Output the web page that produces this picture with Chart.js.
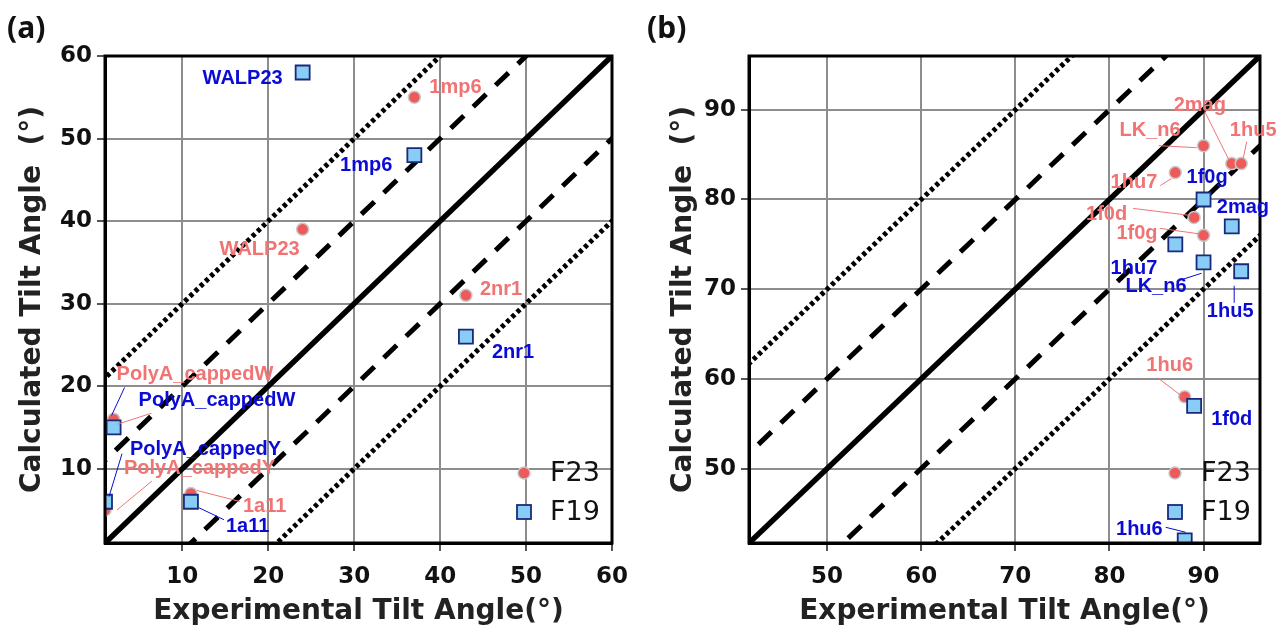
<!DOCTYPE html>
<html><head><meta charset="utf-8">
<script src="https://cdn.jsdelivr.net/npm/chart.js@4/dist/chart.umd.min.js"></script>
<style>
html,body{margin:0;padding:0;background:#fff;}
#wrap{display:flex;width:1286px;height:630px;overflow:hidden;}
canvas{display:block;}
</style></head><body>
<div id="wrap"><canvas id="ca" width="640" height="630"></canvas><canvas id="cb" width="646" height="630"></canvas></div>
<script>
// ---------- data ----------
const A_F23_names = ['1mp6', 'WALP23', '2nr1', 'PolyA_cappedW', 'PolyA_cappedY', '1a11'];
const A_F23_exp   = [37, 24, 43, 2, 1, 11];
const A_F23_calc  = [55, 39, 31, 16, 5, 7];
const A_F19_names = ['WALP23', '1mp6', '2nr1', 'PolyA_cappedW', 'PolyA_cappedY', '1a11'];
const A_F19_exp   = [24, 37, 43, 2, 1, 11];
const A_F19_calc  = [58, 48, 26, 15, 6, 6];

const B_F23_names = ['LK_n6', '2mag', '1hu5', '1hu7', '1f0d', '1f0g', '1hu6'];
const B_F23_exp   = [90, 93, 94, 87, 89, 90, 88];
const B_F23_calc  = [86, 84, 84, 83, 78, 76, 58];
const B_F19_names = ['1f0g', '2mag', '1hu7', 'LK_n6', '1hu5', '1f0d', '1hu6'];
const B_F19_exp   = [90, 93, 87, 90, 94, 89, 88];
const B_F19_calc  = [80, 77, 75, 73, 72, 57, 42];

const A_ticks = [10, 20, 30, 40, 50, 60];
const B_ticks = [50, 60, 70, 80, 90];
const A_range = [1, 60];
const B_range = [41.7, 96];
const refOffsets = [0, 10, -10, 20, -20];   // reference lines y = x + k
const seriesNames = ['F23', 'F19'];

// ---------- label placement (pixel offsets from the point) ----------
// [dx, dy, align, leader line [x1,y1,x2,y2] or null]
const A_F23_lab = [
  [15, -10, 'left', null],
  [-3, 20, 'right', null],
  [14, -6, 'left', null],
  [3, -45, 'left', [4, 5, 38, -6]],
  [19, -41, 'left', [12, 0, 47, -29]],
  [52, 13, 'left', [6, -3, 49, 8]]
];
const A_F19_lab = [
  [-20, 6, 'right', null],
  [-22, 10, 'right', null],
  [26, 16, 'left', null],
  [25, -27, 'left', [-2, -12, 11, -40]],
  [25, -52, 'left', [4, -5, 17, -48]],
  [35, 25, 'left', [8, 6, 33, 18]]
];
const B_F23_lab = [
  [-23, -15, 'right', [-45, 0, -7, 2]],
  [-32, -58, 'center', [-3, -4, -27, -52]],
  [12, -33, 'center', [2, -5, 5.5, -22]],
  [-18, 10, 'right', [-15, 13, -4, 6]],
  [-67, -3, 'right', [-61, -9, -4, -2]],
  [-46, -2, 'right', [-43.5, -7, -3.5, -1.4]],
  [-15, -31, 'center', [-27, -19, -2, 0]]
];
const B_F19_lab = [
  [-17, -22, 'left', null],
  [-15, -19, 'left', null],
  [-18, 24, 'right', null],
  [-17, 24, 'right', [-27, 19, -2, 11]],
  [-11, 40, 'center', [-7, 14.5, -7, 31.5]],
  [17, 14, 'left', null],
  [-22, -11, 'right', [-19, -13, 1, -8]]
];

// ---------- styles ----------
const RED_FILL = '#ee5a5a', RED_EDGE = '#c8c8c8', RED_TEXT = '#f07474';
const BLUE_FILL = '#88cdf6', BLUE_EDGE = '#1b2a78', BLUE_TEXT = '#0b0bd6';
const LABEL_FONT = 'bold 20px "Liberation Sans", Arial, sans-serif';

function drawCircle(ctx, x, y) {
  ctx.beginPath(); ctx.arc(x, y, 6, 0, Math.PI * 2);
  ctx.fillStyle = RED_FILL; ctx.fill();
  ctx.lineWidth = 1.5; ctx.strokeStyle = RED_EDGE; ctx.stroke();
}
function drawSquare(ctx, x, y) {
  ctx.fillStyle = BLUE_FILL; ctx.fillRect(x - 7, y - 7, 14, 14);
  ctx.lineWidth = 1.8; ctx.strokeStyle = BLUE_EDGE; ctx.strokeRect(x - 7, y - 7, 14, 14);
}

function makeAnnot(groups, panelText, legendDx) {
  return {
    id: 'annot',
    afterDatasetsDraw(chart) {
      const ctx = chart.ctx, ca = chart.chartArea, xs = chart.scales.x, ys = chart.scales.y;
      ctx.save();
      // frame
      ctx.lineWidth = 3; ctx.strokeStyle = '#000';
      ctx.strokeRect(ca.left, ca.top, ca.right - ca.left, ca.bottom - ca.top);
      // labels
      ctx.font = LABEL_FONT; ctx.textBaseline = 'middle';
      groups.forEach(g => {
        g.names.forEach((name, i) => {
          const px = xs.getPixelForValue(g.xs[i]), py = ys.getPixelForValue(g.ys[i]);
          const p = g.pos[i];
          if (p[3]) {
            ctx.beginPath();
            ctx.moveTo(px + p[3][0], py + p[3][1]);
            ctx.lineTo(px + p[3][2], py + p[3][3]);
            ctx.lineWidth = 1; ctx.strokeStyle = g.color; ctx.stroke();
          }
          ctx.fillStyle = g.color; ctx.textAlign = p[2];
          ctx.fillText(name, px + p[0], py + p[1]);
        });
      });
      // legend
      const lx = ca.right - legendDx;
      drawCircle(ctx, lx, ca.bottom - 70);
      drawSquare(ctx, lx, ca.bottom - 31);
      ctx.font = '27px "DejaVu Sans", sans-serif';
      ctx.fillStyle = '#111'; ctx.textAlign = 'left'; ctx.textBaseline = 'middle';
      ctx.fillText(seriesNames[0], lx + 26, ca.bottom - 69);
      ctx.fillText(seriesNames[1], lx + 26, ca.bottom - 30);
      ctx.restore();
    },
    afterDraw(chart) {
      const ctx = chart.ctx;
      ctx.save();
      ctx.font = 'bold 30px "Noto Sans", "DejaVu Sans", sans-serif';
      ctx.fillStyle = '#111'; ctx.textAlign = 'left'; ctx.textBaseline = 'middle';
      ctx.fillText(panelText, 7, 29);
      ctx.restore();
    }
  };
}

function refLineDatasets(range) {
  return refOffsets.map(k => {
    const a = Math.abs(k);
    return {
      type: 'scatter', showLine: true, pointRadius: 0, clip: 0,
      data: [{x: range[0] - 30, y: range[0] - 30 + k}, {x: range[1] + 30, y: range[1] + 30 + k}],
      borderColor: '#000',
      borderWidth: a === 0 ? 5.5 : 5,
      borderDash: a === 0 ? [] : (a === 10 ? [18, 13] : [4, 3.2]),
      borderCapStyle: 'butt'
    };
  });
}

function makeChart(id, o) {
  const tickFont = {family: 'DejaVu Sans', size: 23, weight: 'bold'};
  const titleFont = {family: 'DejaVu Sans', size: 28, weight: 'bold'};
  const gridCfg = {color: '#8d8d8d', lineWidth: 2, tickLength: 8, tickColor: '#555', tickWidth: 2};
  const f19 = {
    type: 'scatter', clip: 0,
    data: o.f19x.map((v, i) => ({x: v, y: o.f19y[i]})),
    pointStyle: 'rect', pointRadius: 9.9, pointBackgroundColor: BLUE_FILL,
    pointBorderColor: BLUE_EDGE, pointBorderWidth: 1.8
  };
  const f23 = {
    type: 'scatter', clip: 0,
    data: o.f23x.map((v, i) => ({x: v, y: o.f23y[i]})),
    pointStyle: 'circle', pointRadius: 6, pointBackgroundColor: RED_FILL,
    pointBorderColor: RED_EDGE, pointBorderWidth: 1.5
  };
  return new Chart(document.getElementById(id), {
    type: 'scatter',
    data: {datasets: [f19, f23].concat(refLineDatasets(o.range))},
    options: {
      responsive: false, animation: false, devicePixelRatio: 1, events: [],
      layout: {padding: {left: 0, right: o.padRight, top: 56, bottom: 0}},
      plugins: {legend: {display: false}, tooltip: {enabled: false}},
      scales: {
        x: {
          type: 'linear', min: o.range[0], max: o.range[1],
          afterBuildTicks: s => { s.ticks = o.ticks.map(v => ({value: v})); },
          afterFit: s => { s.height = 87; },
          grid: gridCfg, border: {display: true, color: '#000', width: 3},
          ticks: {font: tickFont, color: '#111', padding: 12, maxRotation: 0, autoSkip: false},
          title: {display: true, text: 'Experimental Tilt Angle(°)', font: titleFont, color: '#222', padding: {top: 0, bottom: 1}}
        },
        y: {
          type: 'linear', min: o.range[0], max: o.range[1],
          afterBuildTicks: s => { s.ticks = o.ticks.map(v => ({value: v})); },
          afterFit: s => { s.width = o.yWidth; },
          grid: gridCfg, border: {display: true, color: '#000', width: 3},
          ticks: {font: tickFont, color: '#111', padding: 5, autoSkip: false},
          title: {display: true, text: 'Calculated Tilt Angle  (°)', font: titleFont, color: '#222', padding: {top: o.yTitlePad, bottom: 0}}
        }
      }
    },
    plugins: [makeAnnot(o.groups, o.panel, o.legendDx)]
  });
}

makeChart('ca', {
  range: A_range, ticks: A_ticks, padRight: 23, yWidth: 105, yTitlePad: 16, panel: '(a)', legendDx: 88,
  f23x: A_F23_exp, f23y: A_F23_calc, f19x: A_F19_exp, f19y: A_F19_calc,
  groups: [
    {names: A_F23_names, xs: A_F23_exp, ys: A_F23_calc, pos: A_F23_lab, color: RED_TEXT},
    {names: A_F19_names, xs: A_F19_exp, ys: A_F19_calc, pos: A_F19_lab, color: BLUE_TEXT}
  ]
});
makeChart('cb', {
  range: B_range, ticks: B_ticks, padRight: 26, yWidth: 109, yTitlePad: 27, panel: '(b)', legendDx: 85,
  f23x: B_F23_exp, f23y: B_F23_calc, f19x: B_F19_exp, f19y: B_F19_calc,
  groups: [
    {names: B_F23_names, xs: B_F23_exp, ys: B_F23_calc, pos: B_F23_lab, color: RED_TEXT},
    {names: B_F19_names, xs: B_F19_exp, ys: B_F19_calc, pos: B_F19_lab, color: BLUE_TEXT}
  ]
});
</script></body></html>
